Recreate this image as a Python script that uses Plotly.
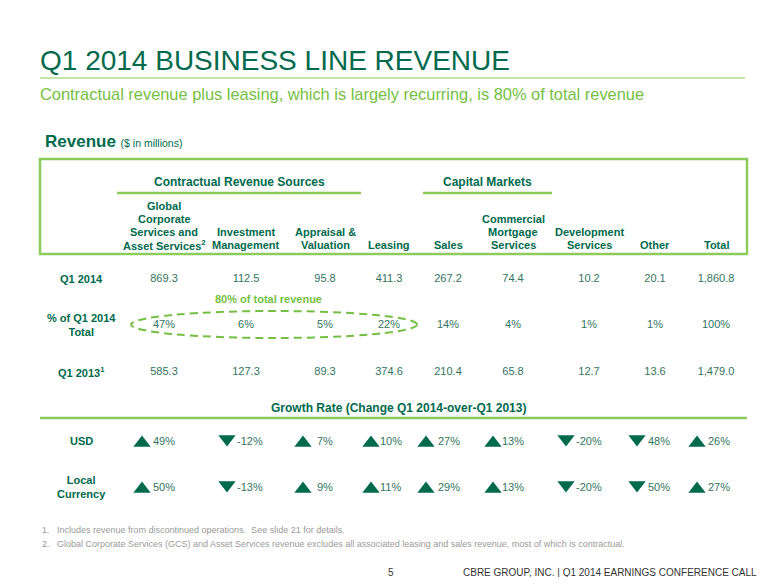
import plotly.graph_objects as go

# ---------------- data ----------------
columns = ["Global<br>Corporate<br>Services and<br>Asset Services<sup>2</sup>",
           "Investment<br>Management", "Appraisal &<br>Valuation", "Leasing", "Sales",
           "Commercial<br>Mortgage<br>Services", "Development<br>Services", "Other", "Total"]
q1_2014 = [869.3, 112.5, 95.8, 411.3, 267.2, 74.4, 10.2, 20.1, 1860.8]
pct_of_total = [47, 6, 5, 22, 14, 4, 1, 1, 100]
q1_2013 = [585.3, 127.3, 89.3, 374.6, 210.4, 65.8, 12.7, 13.6, 1479.0]
growth_usd = [49, -12, 7, 10, 27, 13, -20, -48, 26]
growth_local = [50, -13, 9, 11, 29, 13, -20, -50, 27]
row_labels = ["Q1 2014", "% of Q1 2014<br>Total", "Q1 2013<sup>1</sup>", "USD", "Local<br>Currency"]

# ---------------- layout constants ----------------
DARK = "#006A4D"
NUM = "#33745F"
LIGHT = "#74BF44"
LINE = "#8DCB5B"
GRAY = "#9A9A9A"
FONT = "Liberation Sans, Arial, sans-serif"

# page body has an 8px margin; map axis units to screen pixels
OFF = 8
W, H = 780 - 2 * OFF, 585 - 2 * OFF

col_x = [164, 246, 325, 389, 448, 513, 589, 655, 716]
tri_x = [142, 227, 303, 371, 426, 493, 566, 637, 697]
txt_x = [151, 235, 315, 378, 436, 500, 574, 646, 706]
label_x = 81
y_q14, y_pct, y_q13, y_usd, y_loc = 279, 325, 372, 441, 487
header_bottom, header_step = 245, 13

fig = go.Figure()

def fmt(v):
    return f"{v:,.1f}"

# value rows
for vals, y in [(q1_2014, y_q14), (q1_2013, y_q13)]:
    fig.add_trace(go.Scatter(x=col_x, y=[y] * len(vals), mode="text",
                             text=[fmt(v) for v in vals],
                             textfont=dict(family=FONT, size=11, color=NUM),
                             hoverinfo="skip", showlegend=False))
fig.add_trace(go.Scatter(x=col_x, y=[y_pct] * len(pct_of_total), mode="text",
                         text=[f"{v}%" for v in pct_of_total],
                         textfont=dict(family=FONT, size=11, color=NUM),
                         hoverinfo="skip", showlegend=False))

# growth rows: triangles + text
for vals, y in [(growth_usd, y_usd), (growth_local, y_loc)]:
    up = [v >= 0 for v in vals]
    fig.add_trace(go.Scatter(x=tri_x, y=[y + 2 if u else y - 2 for u in up], mode="markers",
                             marker=dict(symbol=["triangle-up" if u else "triangle-down" for u in up],
                                         size=15, color=DARK, line=dict(width=0)),
                             hoverinfo="skip", showlegend=False))
    texts = []
    for i, v in enumerate(vals):
        # the "Other" column is printed without a sign in the original slide
        texts.append(f"{abs(v)}%" if i == 7 else f"{v}%")
    for x, t in zip(txt_x, texts):
        fig.add_annotation(x=x, y=y, text=t, showarrow=False, xanchor="left", yanchor="middle",
                           font=dict(family=FONT, size=11, color=NUM))

# column headers, one annotation per line, bottom-aligned
for x, c in zip(col_x, columns):
    lines = c.split("<br>")
    n = len(lines)
    for k, ln in enumerate(lines):
        fig.add_annotation(x=x, y=header_bottom - (n - 1 - k) * header_step, text=f"<b>{ln}</b>",
                           showarrow=False, xanchor="center", yanchor="middle",
                           font=dict(family=FONT, size=11, color=DARK))

# row labels
for lab, y in zip(row_labels, [y_q14, y_pct, y_q13, y_usd, y_loc]):
    fig.add_annotation(x=label_x, y=y, text=f"<b>{lab}</b>", showarrow=False,
                       xanchor="center", yanchor="middle",
                       font=dict(family=FONT, size=11, color=DARK), align="center")

# group headers
fig.add_annotation(x=239, y=182, text="<b>Contractual Revenue Sources</b>", showarrow=False,
                   font=dict(family=FONT, size=12, color=DARK))
fig.add_annotation(x=487, y=182, text="<b>Capital Markets</b>", showarrow=False,
                   font=dict(family=FONT, size=12, color=DARK))
fig.add_annotation(x=398, y=408, text="<b>Growth Rate (Change Q1 2014-over-Q1 2013)</b>",
                   showarrow=False, font=dict(family=FONT, size=12, color=DARK))
fig.add_annotation(x=268, y=299, text="<b>80% of total revenue</b>", showarrow=False,
                   font=dict(family=FONT, size=11, color=LIGHT))

# title etc.
fig.add_annotation(x=38, y=60, text="Q1 2014 BUSINESS LINE REVENUE", showarrow=False,
                   xanchor="left", yanchor="middle", font=dict(family=FONT, size=28, color=DARK))
fig.add_annotation(x=38, y=94, text="Contractual revenue plus leasing, which is largely recurring, is 80% of total revenue",
                   showarrow=False, xanchor="left", yanchor="middle",
                   font=dict(family=FONT, size=16.4, color=LIGHT))
fig.add_annotation(x=43, y=141, text="<b>Revenue</b> <span style='font-size:10.5px'>($ in millions)</span>",
                   showarrow=False, xanchor="left", yanchor="middle",
                   font=dict(family=FONT, size=17, color=DARK))

# footnotes
fig.add_annotation(x=40, y=530, text="1.   Includes revenue from discontinued operations.  See slide 21 for details.",
                   showarrow=False, xanchor="left", yanchor="middle", font=dict(family=FONT, size=9, color=GRAY))
fig.add_annotation(x=40, y=544, text="2.   Global Corporate Services (GCS) and Asset Services revenue excludes all associated leasing and sales revenue, most of which is contractual.",
                   showarrow=False, xanchor="left", yanchor="middle", font=dict(family=FONT, size=9, color=GRAY))
fig.add_annotation(x=391, y=572, text="5", showarrow=False, font=dict(family=FONT, size=10, color="#333333"))
fig.add_annotation(x=759, y=572, text="CBRE GROUP, INC. | Q1 2014 EARNINGS CONFERENCE CALL", showarrow=False,
                   xanchor="right", yanchor="middle", font=dict(family=FONT, size=10, color="#333333"))

# shapes
shapes = [
    dict(type="line", x0=40, x1=745, y0=78, y1=78, line=dict(color=LINE, width=1)),
    dict(type="rect", x0=40, x1=747, y0=159, y1=254, line=dict(color=LINE, width=2.5)),
    dict(type="line", x0=117, x1=361, y0=193, y1=193, line=dict(color=LINE, width=2.5)),
    dict(type="line", x0=423, x1=552, y0=193, y1=193, line=dict(color=LINE, width=2.5)),
    dict(type="line", x0=40, x1=747, y0=418, y1=418, line=dict(color=LINE, width=2.5)),
    dict(type="circle", x0=131, x1=417, y0=311, y1=338, line=dict(color=LIGHT, width=2, dash="8px,5px")),
]
fig.update_layout(shapes=shapes)

fig.update_layout(
    width=W, height=H, margin=dict(l=0, r=0, t=0, b=0),
    paper_bgcolor="white", plot_bgcolor="white",
    xaxis=dict(range=[OFF, OFF + W], visible=False, fixedrange=True),
    yaxis=dict(range=[OFF + H, OFF], visible=False, fixedrange=True),
    showlegend=False,
)
fig.write_html("out.html")
